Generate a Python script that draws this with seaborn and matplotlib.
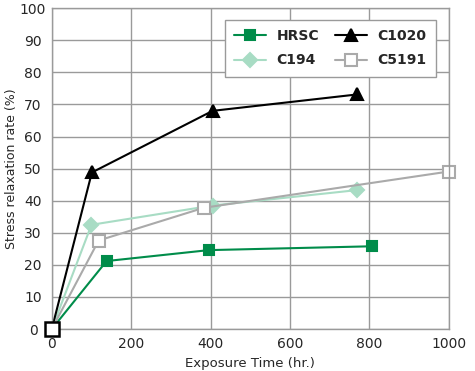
import numpy as np
import pandas as pd
import matplotlib
matplotlib.use('Agg')
import matplotlib.pyplot as plt
import seaborn as sns

# values
hrsc_x = [0, 138, 395, 806]
hrsc_y = [0, 21.2, 24.6, 25.8]
c194_x = [0, 100, 405, 768]
c194_y = [0, 32.5, 38.5, 43.3]
c1020_x = [0, 101, 405, 768]
c1020_y = [0, 48.8, 68.0, 73.1]
c5191_x = [0, 118, 383, 1000]
c5191_y = [0, 27.6, 37.8, 49.1]
origin_x = [0]
origin_y = [0]

sns.set_style('white')
plt.rcParams['font.family'] = ['DejaVu Sans']

fig = plt.figure(figsize=(4.75, 3.71), dpi=100)
ax = fig.add_axes([0.109, 0.113, 0.836, 0.865])

grid_c = '#9a9a9a'
series = [
    ('HRSC', hrsc_x, hrsc_y, '#008c4a', 's', '#008c4a', 7),
    ('C194', c194_x, c194_y, '#a8dcc4', 'D', '#a8dcc4', 7),
    ('C1020', c1020_x, c1020_y, '#000000', '^', '#000000', 9),
    ('C5191', c5191_x, c5191_y, '#aaaaaa', 's', 'white', 9),
]
for name, xs, ys, col, mk, fc, ms in series:
    df = pd.DataFrame({'x': xs, 'y': ys})
    sns.lineplot(data=df, x='x', y='y', ax=ax, color=col, lw=1.5,
                 marker=mk, markersize=ms, markerfacecolor=fc,
                 markeredgecolor=col, markeredgewidth=1.5,
                 markevery=[1, 2, 3], label=name, clip_on=False)

ax.plot(origin_x, origin_y, ls='none', marker='s', markersize=10,
        markerfacecolor='white', markeredgecolor='black', markeredgewidth=1.8,
        clip_on=False, zorder=10)

ax.set_xlim(0, 1000)
ax.set_ylim(0, 100)
ax.set_xticks(np.arange(0, 1001, 200))
ax.set_yticks(np.arange(0, 101, 10))
ax.grid(True, color=grid_c, lw=1)
for s in ax.spines.values():
    s.set_color(grid_c)
    s.set_linewidth(1)
ax.tick_params(axis='both', length=0, labelsize=10)
ax.tick_params(axis='x', pad=6)
ax.tick_params(axis='y', pad=13.5)
for lab in ax.get_yticklabels():
    lab.set_horizontalalignment('center')
ax.set_xlabel('Exposure Time (hr.)', fontsize=9.5, labelpad=4)
ax.set_ylabel('Stress relaxation rate (%)', fontsize=9, labelpad=1)

leg = ax.legend(ncol=2, loc='upper right', bbox_to_anchor=(0.967, 0.963),
                borderaxespad=0, frameon=True, fancybox=False, fontsize=10,
                handlelength=2.3, handletextpad=0.8, columnspacing=1.1,
                borderpad=0.65, labelspacing=0.75)
leg.get_frame().set_edgecolor(grid_c)
leg.get_frame().set_linewidth(1)
leg.get_frame().set_alpha(1)
for t in leg.get_texts():
    t.set_fontweight('bold')

fig.savefig('out.png', dpi=100)
